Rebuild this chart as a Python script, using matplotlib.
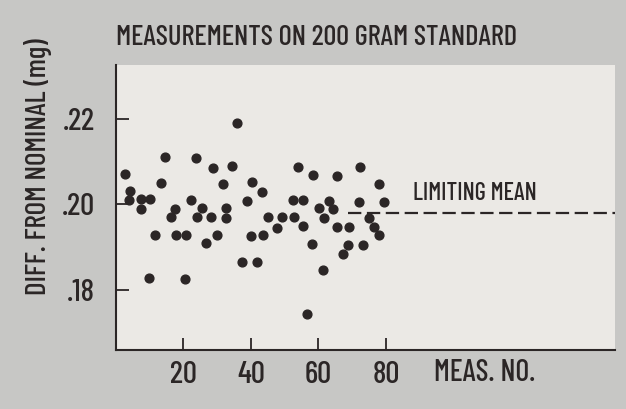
import matplotlib
matplotlib.use("Agg")
from matplotlib import pyplot as plt
from matplotlib import font_manager

meas_no = [2.7, 4.2, 4.0, 7.5, 10.1, 7.3, 14.5, 13.2, 17.6, 16.2,
           11.6, 17.9, 20.7, 9.8, 20.5, 22.3, 23.8, 25.4, 23.9, 28.1,
           26.7, 29.9, 28.9, 31.6, 32.6, 32.6, 34.5, 35.8, 38.8, 37.5,
           41.7, 40.4, 43.3, 39.9, 43.5, 45.1, 49.2, 47.8, 52.5, 55.5,
           52.7, 55.5, 54.0, 58.4, 58.2, 56.6, 60.2, 61.6, 63.0, 64.4,
           61.4, 65.6, 65.6, 69.1, 68.9, 67.4, 72.2, 71.9, 73.2, 75.1,
           76.6, 78.1, 78.1, 79.5]
diff_mg = [0.2070, 0.2031, 0.2011, 0.2012, 0.2012, 0.1990, 0.2111, 0.2050, 0.1990, 0.1970,
           0.1928, 0.1928, 0.1928, 0.1827, 0.1825, 0.2011, 0.2108, 0.1991, 0.1970, 0.1970,
           0.1909, 0.1928, 0.2084, 0.2047, 0.1991, 0.1968, 0.2090, 0.2191, 0.2008, 0.1866,
           0.1865, 0.2051, 0.2029, 0.1926, 0.1928, 0.1969, 0.1970, 0.1945, 0.2010, 0.2010,
           0.1970, 0.1948, 0.2088, 0.2068, 0.1907, 0.1743, 0.1991, 0.1967, 0.2008, 0.1988,
           0.1846, 0.2066, 0.1946, 0.1946, 0.1905, 0.1884, 0.2087, 0.2006, 0.1905, 0.1967,
           0.1946, 0.1927, 0.2047, 0.2006]
limiting_mean = 0.198
x_ticks = [20, 40, 60, 80]
y_ticks = [0.18, 0.20, 0.22]
y_tick_labels = [".18", ".20", ".22"]

# narrow gothic lettering; fall back to DejaVu (smaller) if Barlow is missing
names = {f.name for f in font_manager.fontManager.ttflist}
if "Barlow Condensed" in names:
    font, k = "Barlow Condensed", 1.0
else:
    font, k = "DejaVu Sans", 0.62
ink = "#2b2626"

fig = plt.figure(figsize=(6.26, 4.09), dpi=100, facecolor="#c7c7c5")
ax = fig.add_axes([0.1853, 0.1443, 0.797, 0.697])
ax.set_facecolor("#ebe9e5")

ax.scatter(meas_no, diff_mg, s=40, color=ink, edgecolors=ink, zorder=3)
ax.plot([68.8, 148], [limiting_mean, limiting_mean], color=ink, lw=1.6,
        dashes=(6, 2.5), zorder=2)
ax.text(88, 0.2026, "LIMITING MEAN", fontsize=17.5 * k, family=font,
        weight="medium", color=ink, va="center", ha="left")

ax.set_xlim(0, 147.9)
ax.set_ylim(0.1659, 0.2326)
for s in ["top", "right"]:
    ax.spines[s].set_visible(False)
for s in ["left", "bottom"]:
    ax.spines[s].set_color(ink)
    ax.spines[s].set_linewidth(1.5)

ax.set_xticks(x_ticks)
ax.set_yticks(y_ticks)
ax.set_yticklabels(y_tick_labels)
ax.tick_params(direction="in", length=9, width=1.3, color=ink,
               labelsize=22.5 * k, labelcolor=ink)
ax.tick_params(axis="x", pad=8)
ax.tick_params(axis="y", pad=15)
for lab in ax.get_xticklabels() + ax.get_yticklabels():
    lab.set_family(font)
    lab.set_weight("medium")

fig.text(0.1853, 0.907, "MEASUREMENTS ON 200 GRAM STANDARD", fontsize=20.5 * k,
         family=font, weight="medium", color=ink, ha="left", va="center")
fig.text(0.693, 0.0868, "MEAS. NO.", fontsize=21.5 * k, family=font,
         weight="medium", color=ink, ha="left", va="center")
fig.text(0.061, 0.592, "DIFF. FROM NOMINAL (mg)", fontsize=21 * k,
         family=font, weight="medium", color=ink, ha="center", va="center",
         rotation=90)

fig.savefig("out.png", dpi=100, facecolor=fig.get_facecolor())
